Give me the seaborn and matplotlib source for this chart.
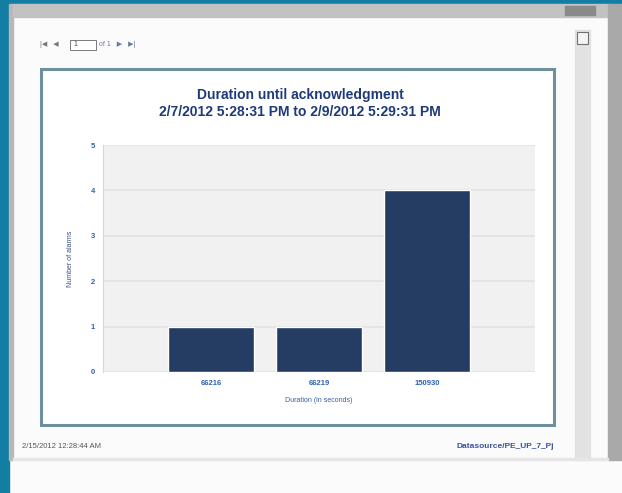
import seaborn as sns
import matplotlib.pyplot as plt
import pandas as pd
from matplotlib.patches import Rectangle

# values
durations = ['66216', '66219', '150930']
alarm_counts = [1, 1, 4]
y_ticks = [0, 1, 2, 3, 4, 5]

title_lines = ['Duration until acknowledgment',
               '2/7/2012 5:28:31 PM to 2/9/2012 5:29:31 PM']
footer_left = '2/15/2012 12:28:44 AM'
footer_right = 'Datasource/PE_UP_7_Pj'

df = pd.DataFrame({'duration': durations, 'alarms': alarm_counts})

sns.set_style('white')
plt.rcParams['font.family'] = ['Liberation Sans', 'DejaVu Sans']

W, H = 622, 493
fig = plt.figure(figsize=(W / 100, H / 100), dpi=100)
fig.patch.set_facecolor('#fbfbfb')


def box(x, y, w, h, **kw):
    # pixel coords (top-left origin) -> figure fraction
    fig.patches.append(Rectangle((x / W, 1 - (y + h) / H), w / W, h / H,
                                 transform=fig.transFigure, **kw))


# surrounding viewer chrome
box(0, 0, W, 4, color='#137ea3', zorder=0)
box(0, 0, 9, H, color='#137ea3', zorder=0)
box(9, 4, 4, 456, color='#b8b8b8', zorder=0)
box(13, 4, 596, 13, color='#c2c2c2', zorder=0)
box(565, 6, 30, 9, color='#8a8a8a', zorder=0)
box(608, 4, 14, 456, color='#a9a9a9', zorder=0)
box(575, 30, 15, 430, color='#e2e2e2', zorder=0)
box(577, 32, 11, 12, facecolor='#f4f4f4', edgecolor='#707070', lw=0.8, zorder=1)
box(13, 458, 595, 2, color='#e6e6e6', zorder=0)

# report page navigation
fig.text(40 / W, 1 - 45 / H, '|◀   ◀', fontsize=5, color='#777777', va='center')
box(70, 40, 26, 10, facecolor='white', edgecolor='#666666', lw=0.6, zorder=1)
fig.text(73 / W, 1 - 45 / H, '1', fontsize=5, color='#444444', va='center')
fig.text(99 / W, 1 - 45 / H, 'of 1   ▶   ▶|', fontsize=5, color='#6a7a99', va='center')

# chart frame
box(41, 69, 513, 356, facecolor='white', edgecolor='#6f8f9c', lw=2.2, zorder=1)

ax = fig.add_axes([103 / W, 1 - 372 / H, 432 / W, 227 / H])
ax.set_zorder(2)
ax.set_facecolor('#f1f1f1')
sns.barplot(data=df, x='duration', y='alarms', color='#253c63',
            width=0.8, saturation=1, ax=ax, zorder=3)
ax.set_xlim(-1, 3)
ax.set_ylim(0, 5)
ax.set_yticks(y_ticks)
ax.yaxis.grid(True, color='#e2e2e2', lw=1.2)
ax.set_axisbelow(True)
for side in ['top', 'right', 'bottom']:
    ax.spines[side].set_visible(False)
ax.spines['left'].set_color('#d8d8d8')
ax.tick_params(axis='both', length=0, labelsize=5.5, labelcolor='#2d62b0', pad=6)
for lbl in ax.get_xticklabels() + ax.get_yticklabels():
    lbl.set_fontweight('bold')
ax.set_xlabel('Duration (in seconds)', fontsize=5, color='#3a5d9a', labelpad=7)
ax.set_ylabel('Number of alarms', fontsize=5, color='#3a4f8a', labelpad=12)

fig.text(300 / W, 1 - 95 / H, title_lines[0], ha='center', va='center',
         fontsize=10, fontweight='bold', color='#1f3a78')
fig.text(300 / W, 1 - 112 / H, title_lines[1], ha='center', va='center',
         fontsize=10, fontweight='bold', color='#1f3a78')

fig.text(22 / W, 1 - 447 / H, footer_left, fontsize=5.5, color='#555555', va='center')
fig.text(554 / W, 1 - 447 / H, footer_right, fontsize=6, color='#3a52a0',
         ha='right', va='center', fontweight='bold')

plt.savefig('out.png', dpi=100)
plt.close()
